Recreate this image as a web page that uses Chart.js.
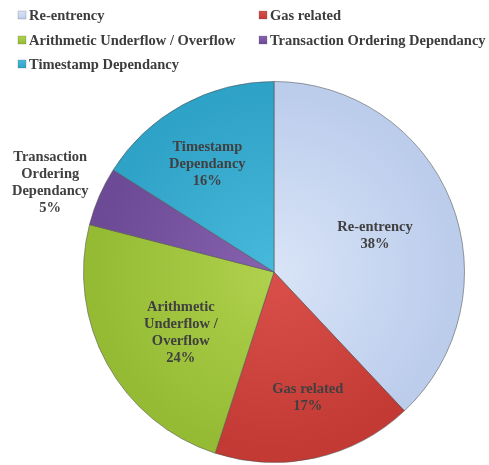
<!DOCTYPE html>
<html>
<head>
<meta charset="utf-8">
<script src="https://cdn.jsdelivr.net/npm/chart.js@4"></script>
<style>
  html, body { margin: 0; padding: 0; background: #fff; }
  #myChart { display: block; }
</style>
</head>
<body>
<canvas id="myChart" width="489" height="465"></canvas>
<script>
const ctx = document.getElementById('myChart');

// vulnerability categories and their share (%)
const categories = ['Re-entrency', 'Gas related', 'Arithmetic Underflow / Overflow', 'Transaction Ordering Dependancy', 'Timestamp Dependancy'];
const shares = [38, 17, 24, 5, 16];
const sliceText = [
    ['Re-entrency'],
    ['Gas related'],
    ['Arithmetic', 'Underflow /', 'Overflow'],
    ['Transaction', 'Ordering', 'Dependancy'],
    ['Timestamp', 'Dependancy']
];

// inner / outer colour of each slice
const innerColors = ['#d9e4f7', '#da4f49', '#b0d14d', '#8662b0', '#47b9db'];
const outerColors = ['#bccdec', '#c33a35', '#95bb34', '#6d4a95', '#2fa2c7'];
// label placement: fraction of radius, then a small nudge in px
const labelDist = [0.57, 0.67, 0.6, 1.28, 0.65];
const labelNudge = [[0, 4], [6, 1], [7, 6], [0, 8], [-7, 1]];

const serif = '"Liberation Serif", "Times New Roman", serif';

function sliceFill(c) {
    const chart = c.chart;
    const area = chart.chartArea;
    if (!area) return innerColors[c.dataIndex];
    const cx = (area.left + area.right) / 2;
    const cy = (area.top + area.bottom) / 2;
    const r = Math.min(area.right - area.left, area.bottom - area.top) / 2;
    const g = chart.ctx.createRadialGradient(cx, cy, 0, cx, cy, r);
    g.addColorStop(0, innerColors[c.dataIndex]);
    g.addColorStop(0.93, outerColors[c.dataIndex]);
    g.addColorStop(1, outerColors[c.dataIndex]);
    return g;
}

const sliceLabels = {
    id: 'sliceLabels',
    afterDatasetsDraw(chart) {
        const c = chart.ctx;
        const arcs = chart.getDatasetMeta(0).data;
        c.save();
        c.font = 'bold 14.5px ' + serif;
        c.fillStyle = '#404040';
        c.textAlign = 'center';
        c.textBaseline = 'middle';
        arcs.forEach((arc, i) => {
            const p = arc.getProps(['x', 'y', 'startAngle', 'endAngle', 'outerRadius']);
            const mid = (p.startAngle + p.endAngle) / 2;
            const x = p.x + Math.cos(mid) * p.outerRadius * labelDist[i] + labelNudge[i][0];
            const y = p.y + Math.sin(mid) * p.outerRadius * labelDist[i] + labelNudge[i][1];
            const lines = sliceText[i].concat([shares[i] + '%']);
            const lh = 17;
            const y0 = y - (lines.length - 1) * lh / 2;
            lines.forEach((t, k) => c.fillText(t, x, y0 + k * lh));
        });
        c.restore();
    }
};

// two-column legend across the top
const topLegend = {
    id: 'topLegend',
    afterDraw(chart) {
        const c = chart.ctx;
        const cols = [18, 259];
        const rows = [15, 40, 64];
        c.save();
        c.font = 'bold 14.5px ' + serif;
        c.textBaseline = 'middle';
        categories.forEach((name, i) => {
            const x = cols[i % 2];
            const y = rows[Math.floor(i / 2)];
            const g = c.createLinearGradient(x, y - 4, x, y + 4);
            g.addColorStop(0, innerColors[i]);
            g.addColorStop(1, outerColors[i]);
            c.fillStyle = g;
            c.fillRect(x, y - 4, 8, 8);
            c.strokeStyle = 'rgba(90,90,90,0.5)';
            c.lineWidth = 0.5;
            c.strokeRect(x, y - 4, 8, 8);
            c.fillStyle = '#3c3c3c';
            c.fillText(name, x + 11, y + 1);
        });
        c.restore();
    }
};

new Chart(ctx, {
    type: 'pie',
    data: {
        labels: categories,
        datasets: [{
            data: shares,
            backgroundColor: sliceFill,
            borderColor: 'rgba(80,80,80,0.55)',
            borderWidth: 1
        }]
    },
    options: {
        responsive: false,
        animation: false,
        layout: {
            padding: { left: 83, right: 24, top: 81, bottom: 2 }
        },
        plugins: {
            legend: { display: false },
            tooltip: { enabled: false }
        }
    },
    plugins: [sliceLabels, topLegend]
});
</script>
</body>
</html>
